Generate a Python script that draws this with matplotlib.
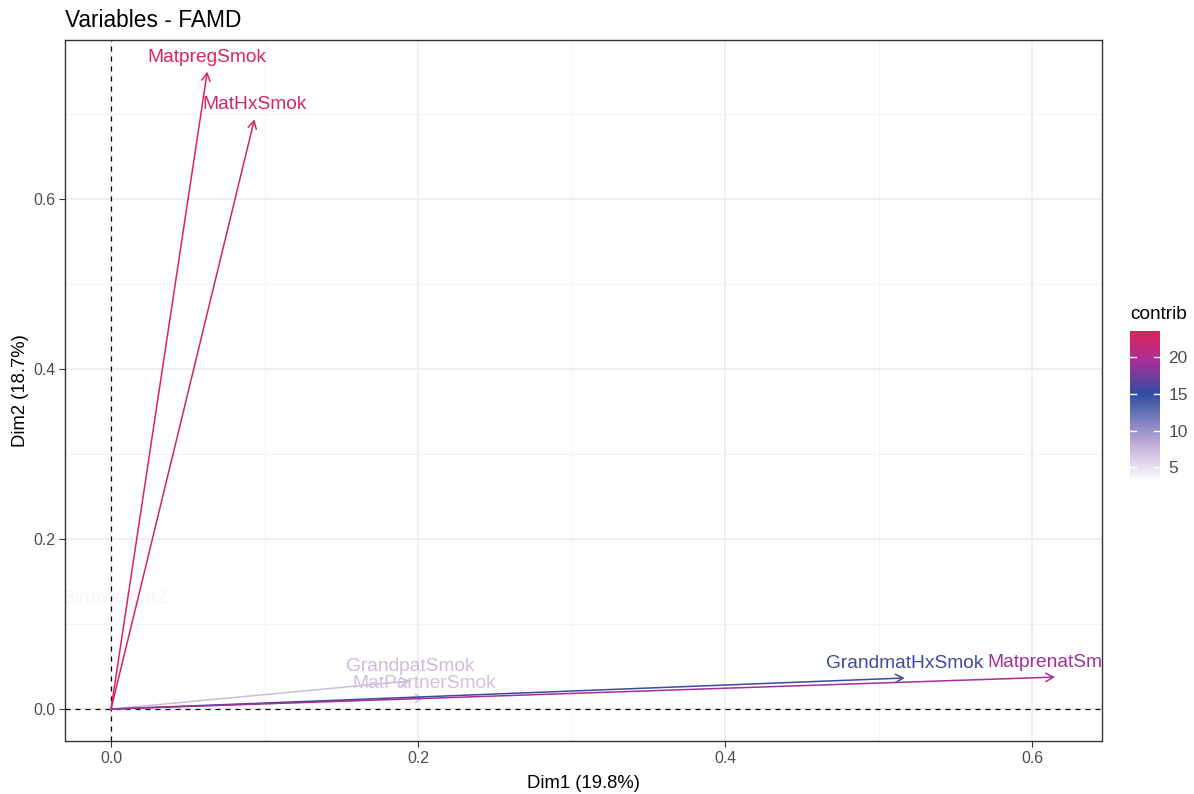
import numpy as np
import matplotlib
matplotlib.use("Agg")
import matplotlib.pyplot as plt
from matplotlib.colors import LinearSegmentedColormap, Normalize
from matplotlib.cm import ScalarMappable

plt.rcParams["font.family"] = ["Liberation Sans", "DejaVu Sans"]

# Quantitative variables: coordinates on Dim1 / Dim2 and their contribution
variables = ["MatpregSmok", "MatHxSmok", "Birthweight2", "GrandpatSmok",
             "MatPartnerSmok", "GrandmatHxSmok", "MatprenatSmok"]
dim1 = [0.0627, 0.0934, 0.0023, 0.1948, 0.2040, 0.5170, 0.6150]
dim2 = [0.7498, 0.6937, 0.1130, 0.0330, 0.0130, 0.0365, 0.0376]
contrib = [23.6, 22.6, 3.0, 7.4, 7.0, 15.6, 19.3]

x_ticks = [0.0, 0.2, 0.4, 0.6]
y_ticks = [0.0, 0.2, 0.4, 0.6]
cbar_ticks = [5, 10, 15, 20]

title = "Variables - FAMD"
xlabel = "Dim1 (19.8%)"
ylabel = "Dim2 (18.7%)"

W, H = 1194, 794
fig = plt.figure(figsize=(W / 100, H / 100), dpi=100)
fig.patch.set_facecolor("white")

left, right, top, bottom = 65, 1102, 40, 741
ax = fig.add_axes([left / W, 1 - bottom / H, (right - left) / W, (bottom - top) / H])

# colour scale: white -> lavender -> blue -> magenta -> crimson
cmin, cmax = min(contrib), max(contrib)
stops = [(cmin, "#FFFFFF"), (8.0, "#C4AFDA"), (15.0, "#2F4DA0"),
         (19.5, "#A82E98"), (cmax, "#DC2459")]
cmap = LinearSegmentedColormap.from_list(
    "contrib", [((v - cmin) / (cmax - cmin), c) for v, c in stops])
norm = Normalize(vmin=cmin, vmax=cmax)

ax.set_xlim(-0.030, 0.6456)
ax.set_ylim(-0.0376, 0.787)

# grid
ax.set_xticks(x_ticks)
ax.set_yticks(y_ticks)
ax.set_xticks([0.1, 0.3, 0.5], minor=True)
ax.set_yticks([0.1, 0.3, 0.5, 0.7], minor=True)
ax.grid(True, which="major", color="#EBEBEB", linewidth=1.1, zorder=0)
ax.grid(True, which="minor", color="#F3F3F3", linewidth=0.6, zorder=0)
ax.set_axisbelow(True)
ax.set_xticklabels([f"{v:.1f}" for v in x_ticks])
ax.set_yticklabels([f"{v:.1f}" for v in y_ticks])
ax.tick_params(axis="both", which="major", length=4, width=0.8, color="#333333",
               labelsize=11.4, labelcolor="#4D4D4D", pad=3)
ax.tick_params(axis="both", which="minor", length=0)
for sp in ax.spines.values():
    sp.set_color("#333333")
    sp.set_linewidth(1.0)

# reference lines through the origin
ax.axhline(0, color="black", linestyle=(0, (4, 4)), linewidth=0.9, zorder=2)
ax.axvline(0, color="black", linestyle=(0, (4, 4)), linewidth=0.9, zorder=2)

# arrows and labels
for name, x, y, c in zip(variables, dim1, dim2, contrib):
    col = cmap(norm(c))
    faint = c <= cmin
    ax.annotate("", xy=(x, y), xytext=(0, 0),
                arrowprops=dict(arrowstyle="->,head_length=0.55,head_width=0.3",
                                mutation_scale=10, color=col, lw=1.1,
                                shrinkA=0, shrinkB=0),
                zorder=1.5 if faint else 3)
    ax.annotate(name, xy=(x, y), xytext=(0, 10), textcoords="offset pixels",
                ha="center", va="baseline", fontsize=13.8,
                color="#F7F4F9" if faint else col,
                clip_on=True, annotation_clip=False,
                zorder=1.6 if faint else 4)

# titles
fig.text(left / W, 1 - 27 / H, title, fontsize=16.4, color="black",
         ha="left", va="baseline")
fig.text((left + right) / 2 / W, 1 - 788 / H, xlabel, fontsize=13.3,
         color="black", ha="center", va="baseline")
fig.text(21 / W, 1 - (top + bottom) / 2 / H, ylabel, fontsize=13.3,
         color="black", ha="center", va="center", rotation=90)

# colour legend
cax = fig.add_axes([1130 / W, 1 - 482 / H, 30 / W, 151 / H])
sm = ScalarMappable(norm=norm, cmap=cmap)
cb = fig.colorbar(sm, cax=cax, ticks=cbar_ticks)
cb.outline.set_visible(False)
cax.tick_params(length=0, labelsize=12.5, labelcolor="#4D4D4D", pad=6)
for t in cbar_ticks:
    cax.plot([0, 0.2], [t, t], color="white", lw=1.0)
    cax.plot([0.8, 1.0], [t, t], color="white", lw=1.0)
cax.set_xlim(0, 1)
fig.text(1130 / W, 1 - 319 / H, "contrib", fontsize=13.7, color="black",
         ha="left", va="baseline")

fig.savefig("out.png", dpi=100, facecolor="white")
